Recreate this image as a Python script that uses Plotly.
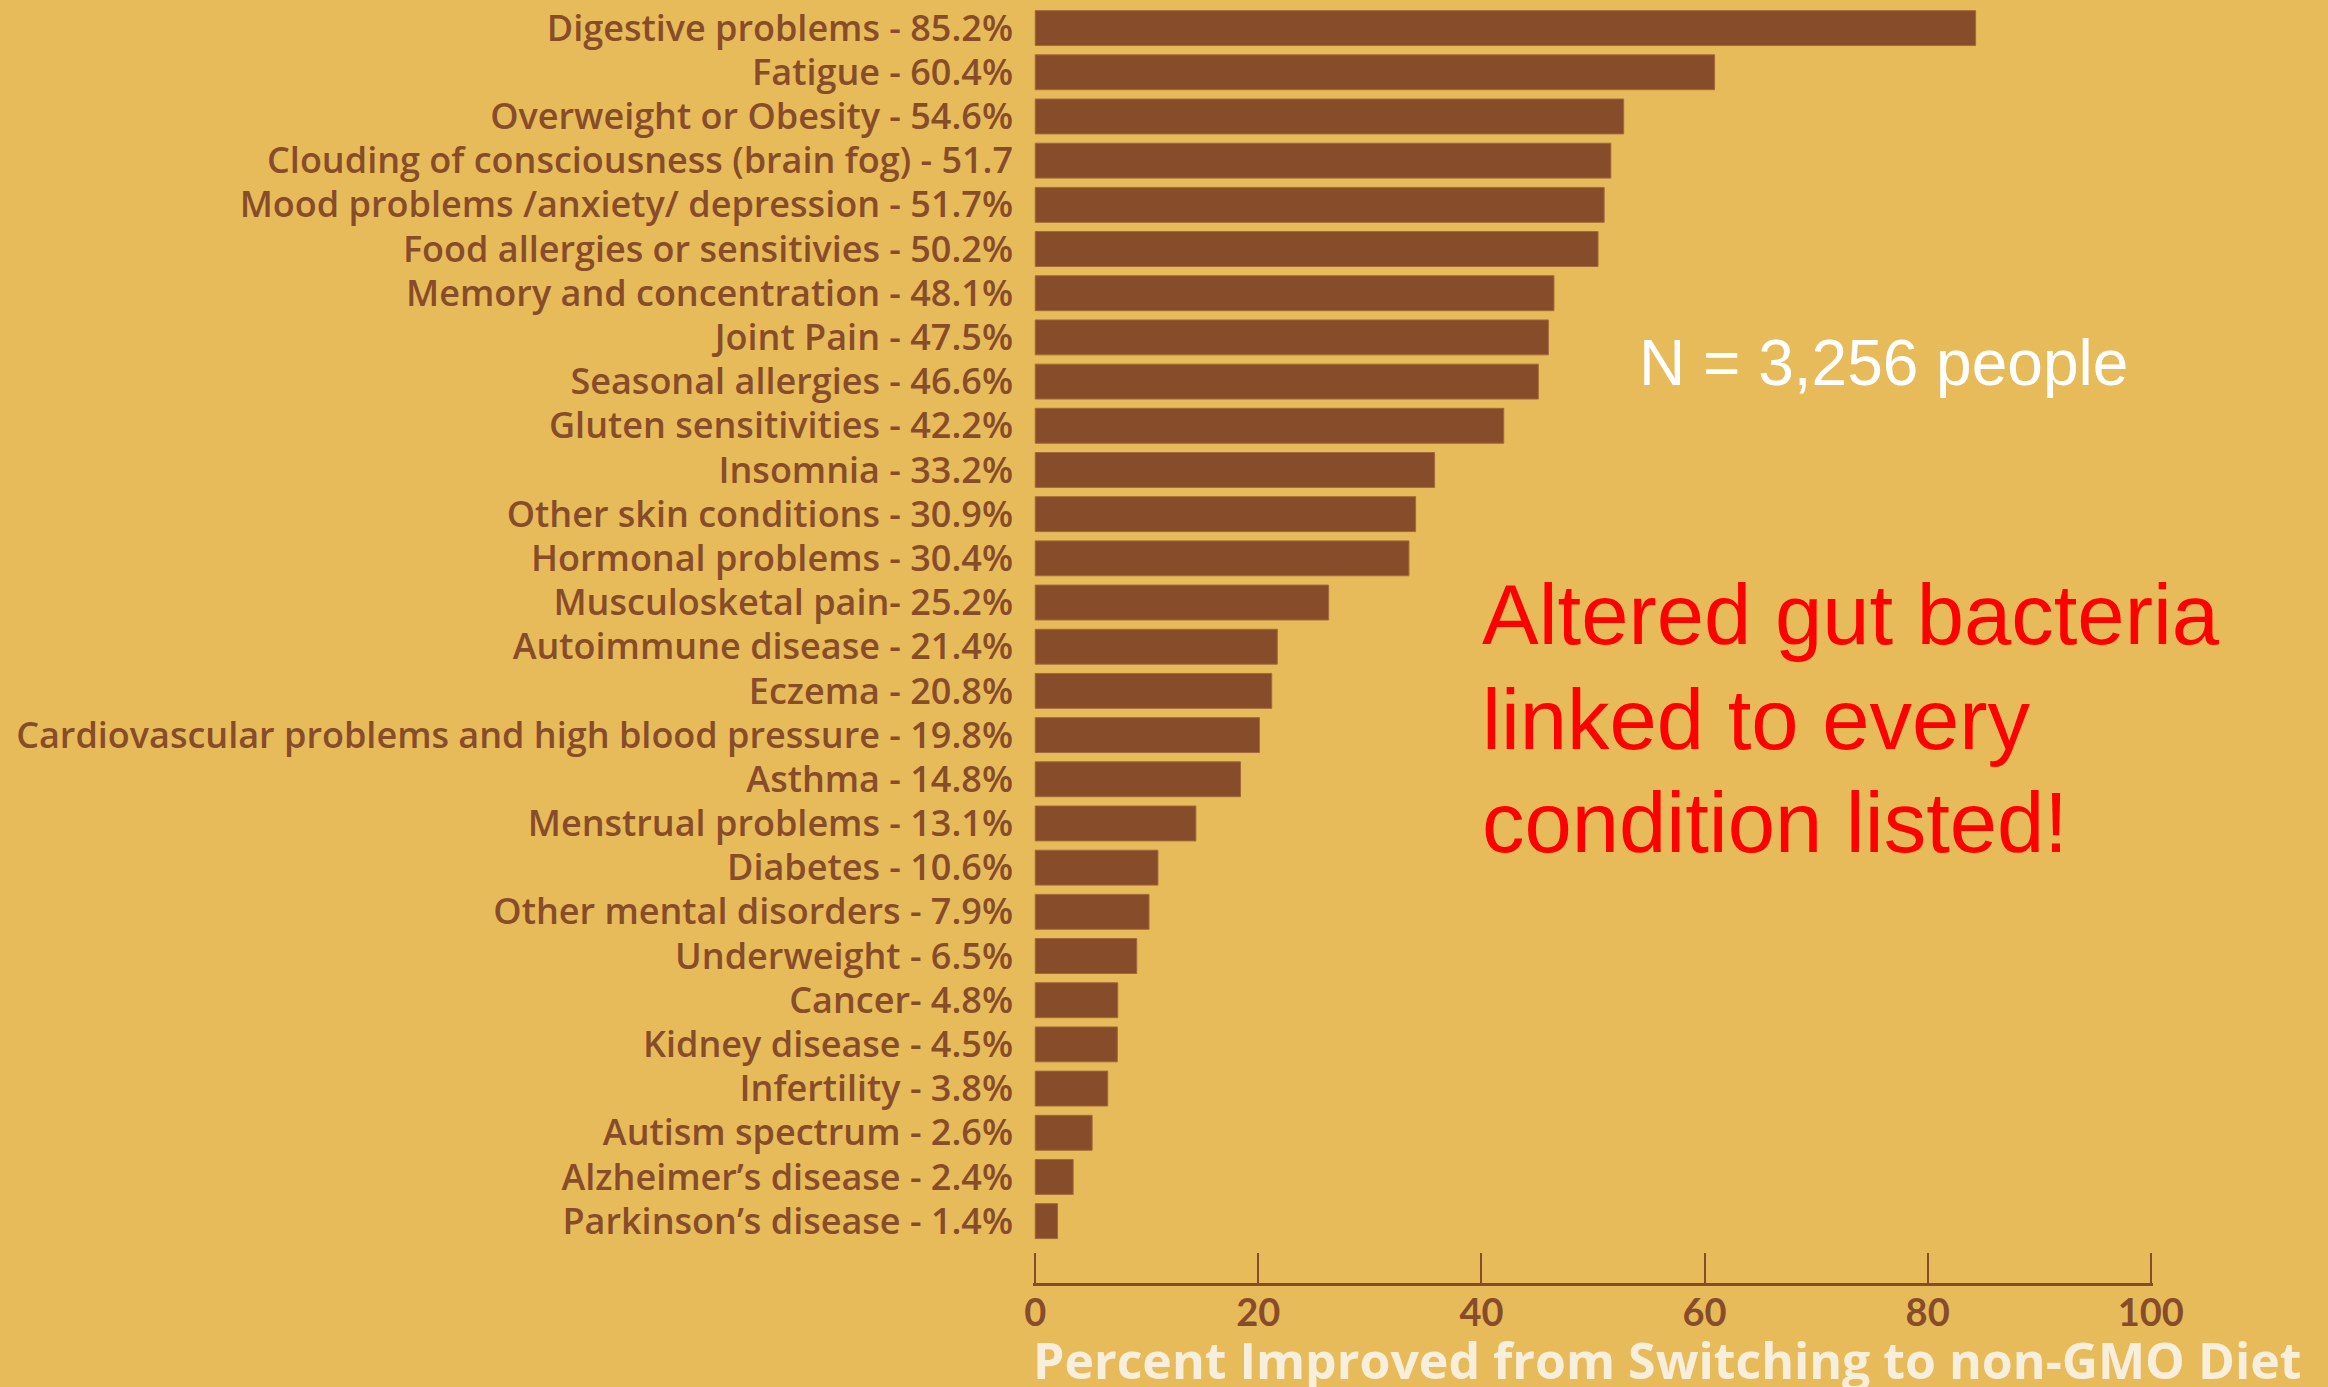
import plotly.graph_objects as go

labels = [
    "Digestive problems - 85.2%",
    "Fatigue - 60.4%",
    "Overweight or Obesity - 54.6%",
    "Clouding of consciousness (brain fog) - 51.7",
    "Mood problems /anxiety/ depression - 51.7%",
    "Food allergies or sensitivies - 50.2%",
    "Memory and concentration - 48.1%",
    "Joint Pain - 47.5%",
    "Seasonal allergies - 46.6%",
    "Gluten sensitivities - 42.2%",
    "Insomnia - 33.2%",
    "Other skin conditions - 30.9%",
    "Hormonal problems - 30.4%",
    "Musculosketal pain- 25.2%",
    "Autoimmune disease - 21.4%",
    "Eczema - 20.8%",
    "Cardiovascular problems and high blood pressure - 19.8%",
    "Asthma - 14.8%",
    "Menstrual problems - 13.1%",
    "Diabetes - 10.6%",
    "Other mental disorders - 7.9%",
    "Underweight - 6.5%",
    "Cancer- 4.8%",
    "Kidney disease - 4.5%",
    "Infertility - 3.8%",
    "Autism spectrum - 2.6%",
    "Alzheimer\u2019s disease - 2.4%",
    "Parkinson\u2019s disease - 1.4%",
]
# bar lengths as drawn in the picture
values = [84.3, 60.9, 52.75, 51.6, 51.0, 50.45, 46.5, 46.0, 45.1, 42.0,
          35.8, 34.1, 33.5, 26.3, 21.7, 21.2, 20.1, 18.4, 14.4, 11.0,
          10.2, 9.1, 7.4, 7.36, 6.5, 5.1, 3.4, 2.0]
x_ticks = [0, 20, 40, 60, 80, 100]

BG = "#E8BB5A"
BROWN = "#874C2A"
CREAM = "#F7EEDB"

fig = go.Figure(go.Bar(
    x=values, y=labels, orientation="h",
    marker=dict(color=BROWN, line=dict(color="#A3693A", width=1)),
))

fig.update_layout(
    width=2328, height=1387,
    paper_bgcolor=BG, plot_bgcolor=BG,
    margin=dict(l=1033, r=175, t=3, b=104),
    bargap=0.21,
    showlegend=False,
    xaxis=dict(
        range=[-0.2, 100.2], tickvals=x_ticks, ticks="inside", ticklen=30,
        tickwidth=2, tickcolor=BROWN, showline=True, linewidth=3,
        linecolor=BROWN, showgrid=False, zeroline=False,
        tickfont=dict(family="Lato", size=38, color=BROWN, weight=700),
        ticklabelstandoff=-6,
    ),
    yaxis=dict(
        type="category", range=[28.4, -0.5], showgrid=False, ticks="",
        showline=False, zeroline=False, ticklabelstandoff=19,
        tickfont=dict(family="Open Sans", size=36, color=BROWN, weight=600),
    ),
)

fig.add_annotation(
    text="Percent Improved from Switching to non-GMO Diet",
    xref="paper", yref="paper", x=-0.0015, y=-0.06,
    xanchor="left", yanchor="middle", showarrow=False,
    font=dict(family="Open Sans", size=50, color=CREAM, weight=700),
)
fig.add_annotation(
    text="N = 3,256 people",
    xref="x", yref="paper", x=53.95, y=0.7207, xanchor="left", yanchor="middle",
    showarrow=False,
    font=dict(family="Liberation Sans", size=64, color="white"),
)
for txt, yy in [("Altered gut bacteria", 0.5234),
                ("linked to every", 0.4414),
                ("condition listed!", 0.3609)]:
    fig.add_annotation(
        text=txt, xref="x", yref="paper", x=39.85, y=yy,
        xanchor="left", yanchor="middle", showarrow=False,
        font=dict(family="Liberation Sans", size=85, color="#FF0000"),
    )

fig.write_html("out.html", config={"displayModeBar": False},
               post_script="document.body.style.margin='0';")
